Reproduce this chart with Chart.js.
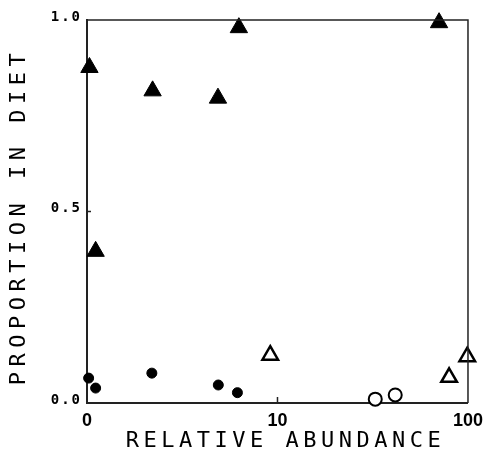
<!DOCTYPE html>
<html lang="en">
<head>
    <meta charset="UTF-8">
    <title>Proportion in diet vs relative abundance</title>
    <script src="https://cdn.jsdelivr.net/npm/chart.js"></script>
    <style>
        html, body { margin: 0; padding: 0; background: #fff; }
        canvas { display: block; }
    </style>
</head>
<body>
    <canvas id="dietChart" width="490" height="465"></canvas>

    <script>
        // axis ticks
        const xTickValues = [1, 10, 100];
        const xTickLabels = ['0', '10', '100'];
        const yTickValues = [0, 0.5, 1];
        const yTickLabels = ['0.0', '0.5', '1.0'];

        // filled triangles
        const filledTriX = [1.03, 1.11, 2.21, 4.87, 6.27, 70.5];
        const filledTriY = [0.876, 0.396, 0.815, 0.796, 0.980, 0.993];
        // filled circles
        const filledCircX = [1.02, 1.11, 2.19, 4.89, 6.16];
        const filledCircY = [0.065, 0.039, 0.078, 0.047, 0.027];
        // open triangles
        const openTriX = [9.16, 79.6, 99.1];
        const openTriY = [0.125, 0.067, 0.121];
        // open circles
        const openCircX = [32.6, 41.5];
        const openCircY = [0.010, 0.021];

        const toPoints = (xs, ys) => xs.map((x, i) => ({ x: x, y: ys[i] }));

        // wide letter spacing for the plotter-style text
        const spacingPlugin = {
            id: 'spacing',
            beforeDraw(chart) {
                const ctx = chart.ctx;
                const wrap = (scale, name, sp, dx, dy) => {
                    if (scale['_sp_' + name]) return;
                    const orig = scale[name].bind(scale);
                    scale[name] = function (a) {
                        ctx.save();
                        ctx.letterSpacing = sp;
                        ctx.translate(dx, dy);
                        orig(a);
                        ctx.restore();
                    };
                    scale['_sp_' + name] = true;
                };
                wrap(chart.scales.x, 'drawTitle', '4.5px', 8, 0);
                wrap(chart.scales.y, 'drawTitle', '5.5px', 2, 5);
                wrap(chart.scales.y, 'drawLabels', '2px', 0, 0);
            }
        };

        // top/right frame and small inward ticks
        const framePlugin = {
            id: 'frame',
            afterDraw(chart) {
                const { ctx, chartArea: a, scales } = chart;
                ctx.save();
                ctx.strokeStyle = '#222';
                ctx.lineWidth = 1.5;
                ctx.beginPath();
                ctx.moveTo(a.left, a.top);
                ctx.lineTo(a.right, a.top);
                ctx.lineTo(a.right, a.bottom);
                ctx.stroke();

                ctx.beginPath();
                const x10 = scales.x.getPixelForValue(10);
                ctx.moveTo(x10, a.bottom);
                ctx.lineTo(x10, a.bottom - 6);
                const y05 = scales.y.getPixelForValue(0.5);
                ctx.moveTo(a.left, y05);
                ctx.lineTo(a.left + 4, y05);
                ctx.stroke();
                ctx.restore();
            }
        };

        new Chart(document.getElementById('dietChart'), {
            type: 'scatter',
            data: {
                datasets: [
                    {
                        data: toPoints(filledTriX, filledTriY),
                        pointStyle: 'triangle',
                        pointRadius: 10,
                        backgroundColor: '#000',
                        borderColor: '#000',
                        borderWidth: 1,
                        clip: false
                    },
                    {
                        data: toPoints(filledCircX, filledCircY),
                        pointStyle: 'circle',
                        pointRadius: 5,
                        backgroundColor: '#000',
                        borderColor: '#000',
                        borderWidth: 1,
                        clip: false
                    },
                    {
                        data: toPoints(openTriX, openTriY),
                        pointStyle: 'triangle',
                        pointRadius: 9,
                        backgroundColor: '#fff',
                        borderColor: '#000',
                        borderWidth: 2.5,
                        clip: false
                    },
                    {
                        data: toPoints(openCircX, openCircY),
                        pointStyle: 'circle',
                        pointRadius: 6.5,
                        backgroundColor: '#fff',
                        borderColor: '#000',
                        borderWidth: 2,
                        clip: false
                    }
                ]
            },
            options: {
                responsive: false,
                animation: false,
                layout: { padding: { top: 20, right: 21, bottom: 0, left: 0 } },
                plugins: {
                    legend: { display: false },
                    tooltip: { enabled: false }
                },
                scales: {
                    x: {
                        type: 'logarithmic',
                        min: 1,
                        max: 100,
                        afterBuildTicks: (scale) => {
                            scale.ticks = xTickValues.map(v => ({ value: v }));
                        },
                        afterFit: (scale) => { scale.height = 62; },
                        grid: { drawOnChartArea: false, drawTicks: false },
                        border: { display: true, color: '#222', width: 2 },
                        ticks: {
                            autoSkip: false,
                            maxRotation: 0,
                            padding: 7,
                            color: '#000',
                            font: { family: '"Liberation Sans", Arial, sans-serif', size: 18, weight: 'bold' },
                            callback: (v) => {
                                const i = xTickValues.indexOf(v);
                                return i >= 0 ? xTickLabels[i] : '';
                            }
                        },
                        title: {
                            display: true,
                            text: 'RELATIVE ABUNDANCE',
                            color: '#000',
                            padding: { top: 0, bottom: 11 },
                            font: { family: '"DejaVu Sans Mono", monospace', size: 22, weight: 'normal' }
                        }
                    },
                    y: {
                        min: 0,
                        max: 1,
                        afterBuildTicks: (scale) => {
                            scale.ticks = yTickValues.map(v => ({ value: v }));
                        },
                        afterFit: (scale) => { scale.width = 87; },
                        grid: { drawOnChartArea: false, drawTicks: false },
                        border: { display: true, color: '#222', width: 2 },
                        ticks: {
                            autoSkip: false,
                            padding: 5,
                            labelOffset: -3,
                            color: '#000',
                            font: { family: '"DejaVu Sans Mono", monospace', size: 14, weight: 'bold' },
                            callback: (v) => {
                                const i = yTickValues.indexOf(v);
                                return i >= 0 ? yTickLabels[i] : '';
                            }
                        },
                        title: {
                            display: true,
                            text: 'PROPORTION IN DIET',
                            color: '#000',
                            padding: { top: 4, bottom: 4 },
                            font: { family: '"DejaVu Sans Mono", monospace', size: 22, weight: 'normal' }
                        }
                    }
                }
            },
            plugins: [spacingPlugin, framePlugin]
        });
    </script>
</body>
</html>
